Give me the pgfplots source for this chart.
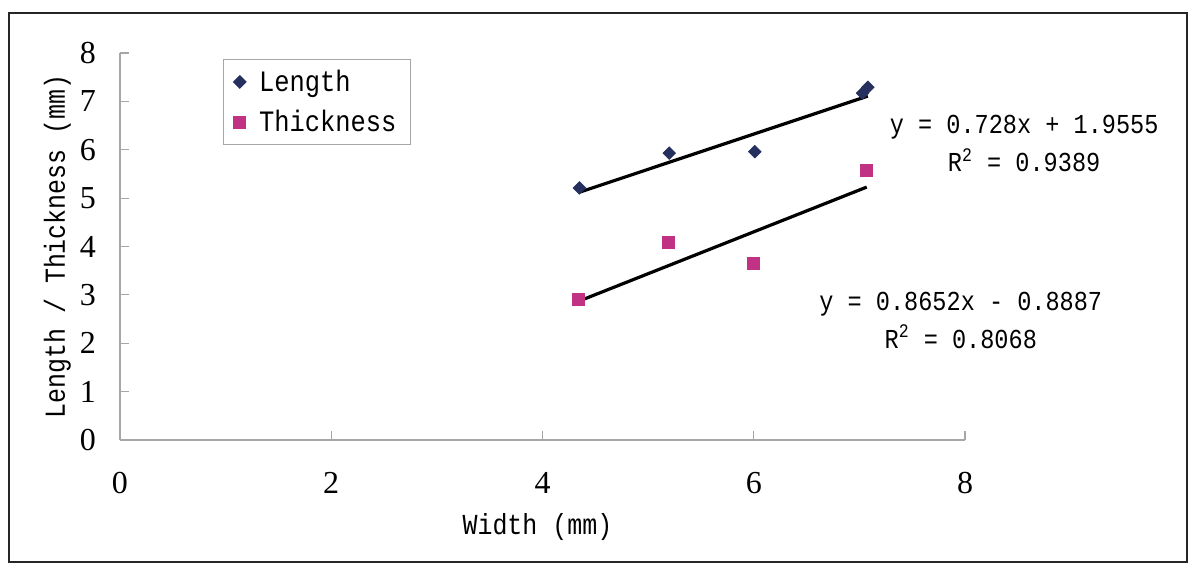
\documentclass[border=0pt]{standalone}
\usepackage{fontspec}
\setmainfont{Liberation Serif}
\newfontfamily\labfont[FakeStretch=0.86]{Liberation Mono}
\usepackage{pgfplots}
\pgfplotsset{compat=1.18}
\definecolor{navy}{HTML}{26305F}
\definecolor{mag}{HTML}{C23284}
\begin{document}
\begin{tikzpicture}
\begin{axis}[
  name=ax,
  scale only axis,
  width=422.5pt, height=193.5pt,
  xmin=0, xmax=8, ymin=0, ymax=8,
  xtick={0,2,4,6,8}, ytick={0,1,2,3,4,5,6,7,8},
  axis lines=left,
  axis line style={gray!70, line width=0.6pt, -},
  tick align=inside,
  major tick length=4.5pt,
  tick style={gray!70, line width=0.6pt},
  /pgf/number format/assume math mode=true,
  tick label style={font=\fontsize{16}{18}\selectfont},
  xticklabel style={yshift=-12.5pt},
  yticklabel style={xshift=-8.5pt},
  xlabel={\labfont Width (mm)},
  ylabel={\labfont Length / Thickness (mm)},
  label style={font=\fontsize{14.5}{16}\labfont},
  xlabel style={at={(axis description cs:0.494,-0.225)}, anchor=center},
  ylabel style={at={(axis description cs:-0.074,0.5)}, anchor=center},
  clip=false,
  legend style={at={(axis description cs:0.122,0.984)}, anchor=north west,
    draw=gray!70, line width=0.5pt, font=\fontsize{14.8}{16}\labfont,
    inner xsep=5pt, inner ysep=3pt, row sep=4pt},
  legend cell align=left,
]
\addplot[only marks, mark=square*, mark size=2.2pt, color=navy, mark options={rotate=45}]
  coordinates {(4.35,5.21) (5.20,5.93) (6.01,5.96) (7.03,7.17) (7.08,7.29)};
\addlegendentry{\hspace{4.5pt}Length}
\addplot[only marks, mark=square*, mark size=3pt, color=mag]
  coordinates {(4.34,2.91) (5.19,4.09) (6.00,3.66) (7.07,5.58)};
\addlegendentry{\hspace{4.5pt}Thickness}
\addplot[black, line width=1.6pt, forget plot] coordinates {(4.35,5.1223) (7.08,7.1097)};
\addplot[black, line width=1.6pt, forget plot] coordinates {(4.34,2.8663) (7.07,5.2283)};
\node[align=center, font=\fontsize{13.7}{19}\labfont] at (axis cs:8.56,6.12)
  {y = 0.728x + 1.9555\\R\textsuperscript{2} = 0.9389};
\node[align=center, font=\fontsize{13.7}{19}\labfont] at (axis cs:7.96,2.48)
  {y = 0.8652x - 0.8887\\R\textsuperscript{2} = 0.8068};
\end{axis}
\draw[line width=1.2pt, black!85] ([shift={(-55.5pt,-61pt)}]ax.south west) rectangle ([shift={(111pt,20pt)}]ax.north east);
\path ([shift={(-60pt,-62pt)}]ax.south west) rectangle ([shift={(114.5pt,26.5pt)}]ax.north east);
\end{tikzpicture}
\end{document}
